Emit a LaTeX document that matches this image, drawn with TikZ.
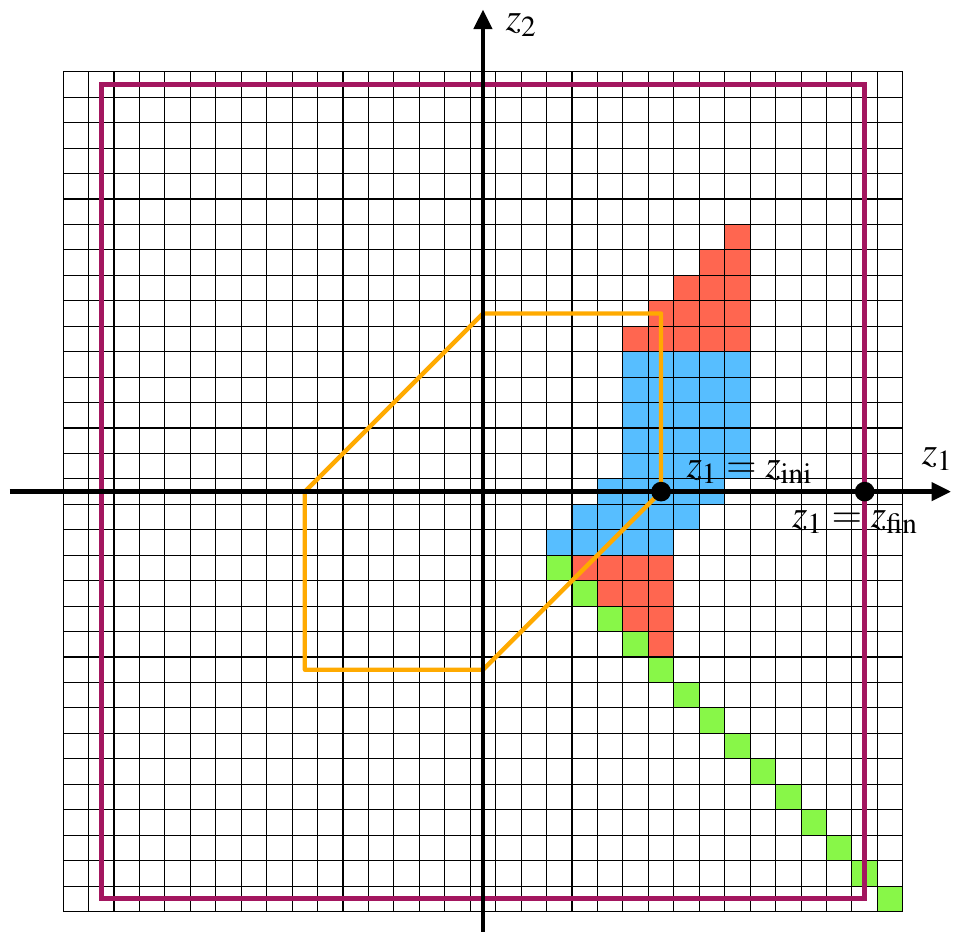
\documentclass[tikz,border=0pt]{standalone}
\usepackage{mathptmx}
\usepackage{tikz}
\usetikzlibrary{arrows.meta}
\definecolor{cellred}{RGB}{255,102,80}
\definecolor{cellblue}{RGB}{87,190,255}
\definecolor{cellgreen}{RGB}{136,247,72}
\definecolor{boxpurple}{RGB}{163,22,95}
\definecolor{polyorange}{RGB}{255,170,0}
\tikzset{
  axis/.style={line width=2.6pt,-{Triangle[length=11pt,width=10pt]}},
  dot/.style={circle,fill=black,inner sep=0pt,minimum size=11pt},
  lbl/.style={font=\fontsize{22}{26}\selectfont},
}

\begin{document}
\begin{tikzpicture}[x=0.5cm,y=0.5cm]
\useasboundingbox (-18.98,-17.5) rectangle (18.55,19.32);
% coloured cells
\foreach \c in {6,...,10}
  \foreach \r in {6,...,\c}
    \fill[cellred] (\c-0.5,\r-0.5) rectangle ++(1,1);
\foreach \c [evaluate=\c as \m using int(\c-1)] in {4,...,7}
  \foreach \r in {3,...,\m}
    \fill[cellred] (\c-0.5,-\r-0.5) rectangle ++(1,1);
\fill[cellblue] (5.5,0.5) rectangle (10.5,5.5);
\foreach \k in {0,1,2}
  \fill[cellblue] (4.5-\k,-0.5-\k) rectangle ++(5,1);
\foreach \k in {3,...,16}
  \fill[cellgreen] (\k-0.5,-\k-0.5) rectangle ++(1,1);
% grid
\foreach \i in {-16.5,-15.5,...,16.5} {
  \draw[line width=0.6pt] (\i,-16.5) -- (\i,16.5);
  \draw[line width=0.6pt] (-16.5,\i) -- (16.5,\i);
}
\draw[boxpurple,line width=2.6pt] (-15,-16) rectangle (15,16);
\draw[polyorange,line width=2.4pt,line join=round] (0,7) -- (7,7) -- (7,0) -- (0,-7) -- (-7,-7) -- (-7,0) -- cycle;
% axes
\draw[axis] (-18.6,0) -- (18.4,0);
\draw[axis] (0,-17.3) -- (0,18.95);
\node[lbl] (zone) at (17.85,1.3) {$z_1$};
\node[lbl] (ztwo) at (1.5,18.35) {$z_2$};
\node[dot] (ini) at (7,0) {};
\node[dot] (fin) at (15,0) {};
\node[lbl,anchor=base west] (inilbl) at (7.75,0.55) {$z_1 = z_{\mathrm{ini}}$};
\node[lbl] (finlbl) at (14.62,-1.2) {$z_1 = z_{\mathrm{fin}}$};
\end{tikzpicture}
\end{document}
